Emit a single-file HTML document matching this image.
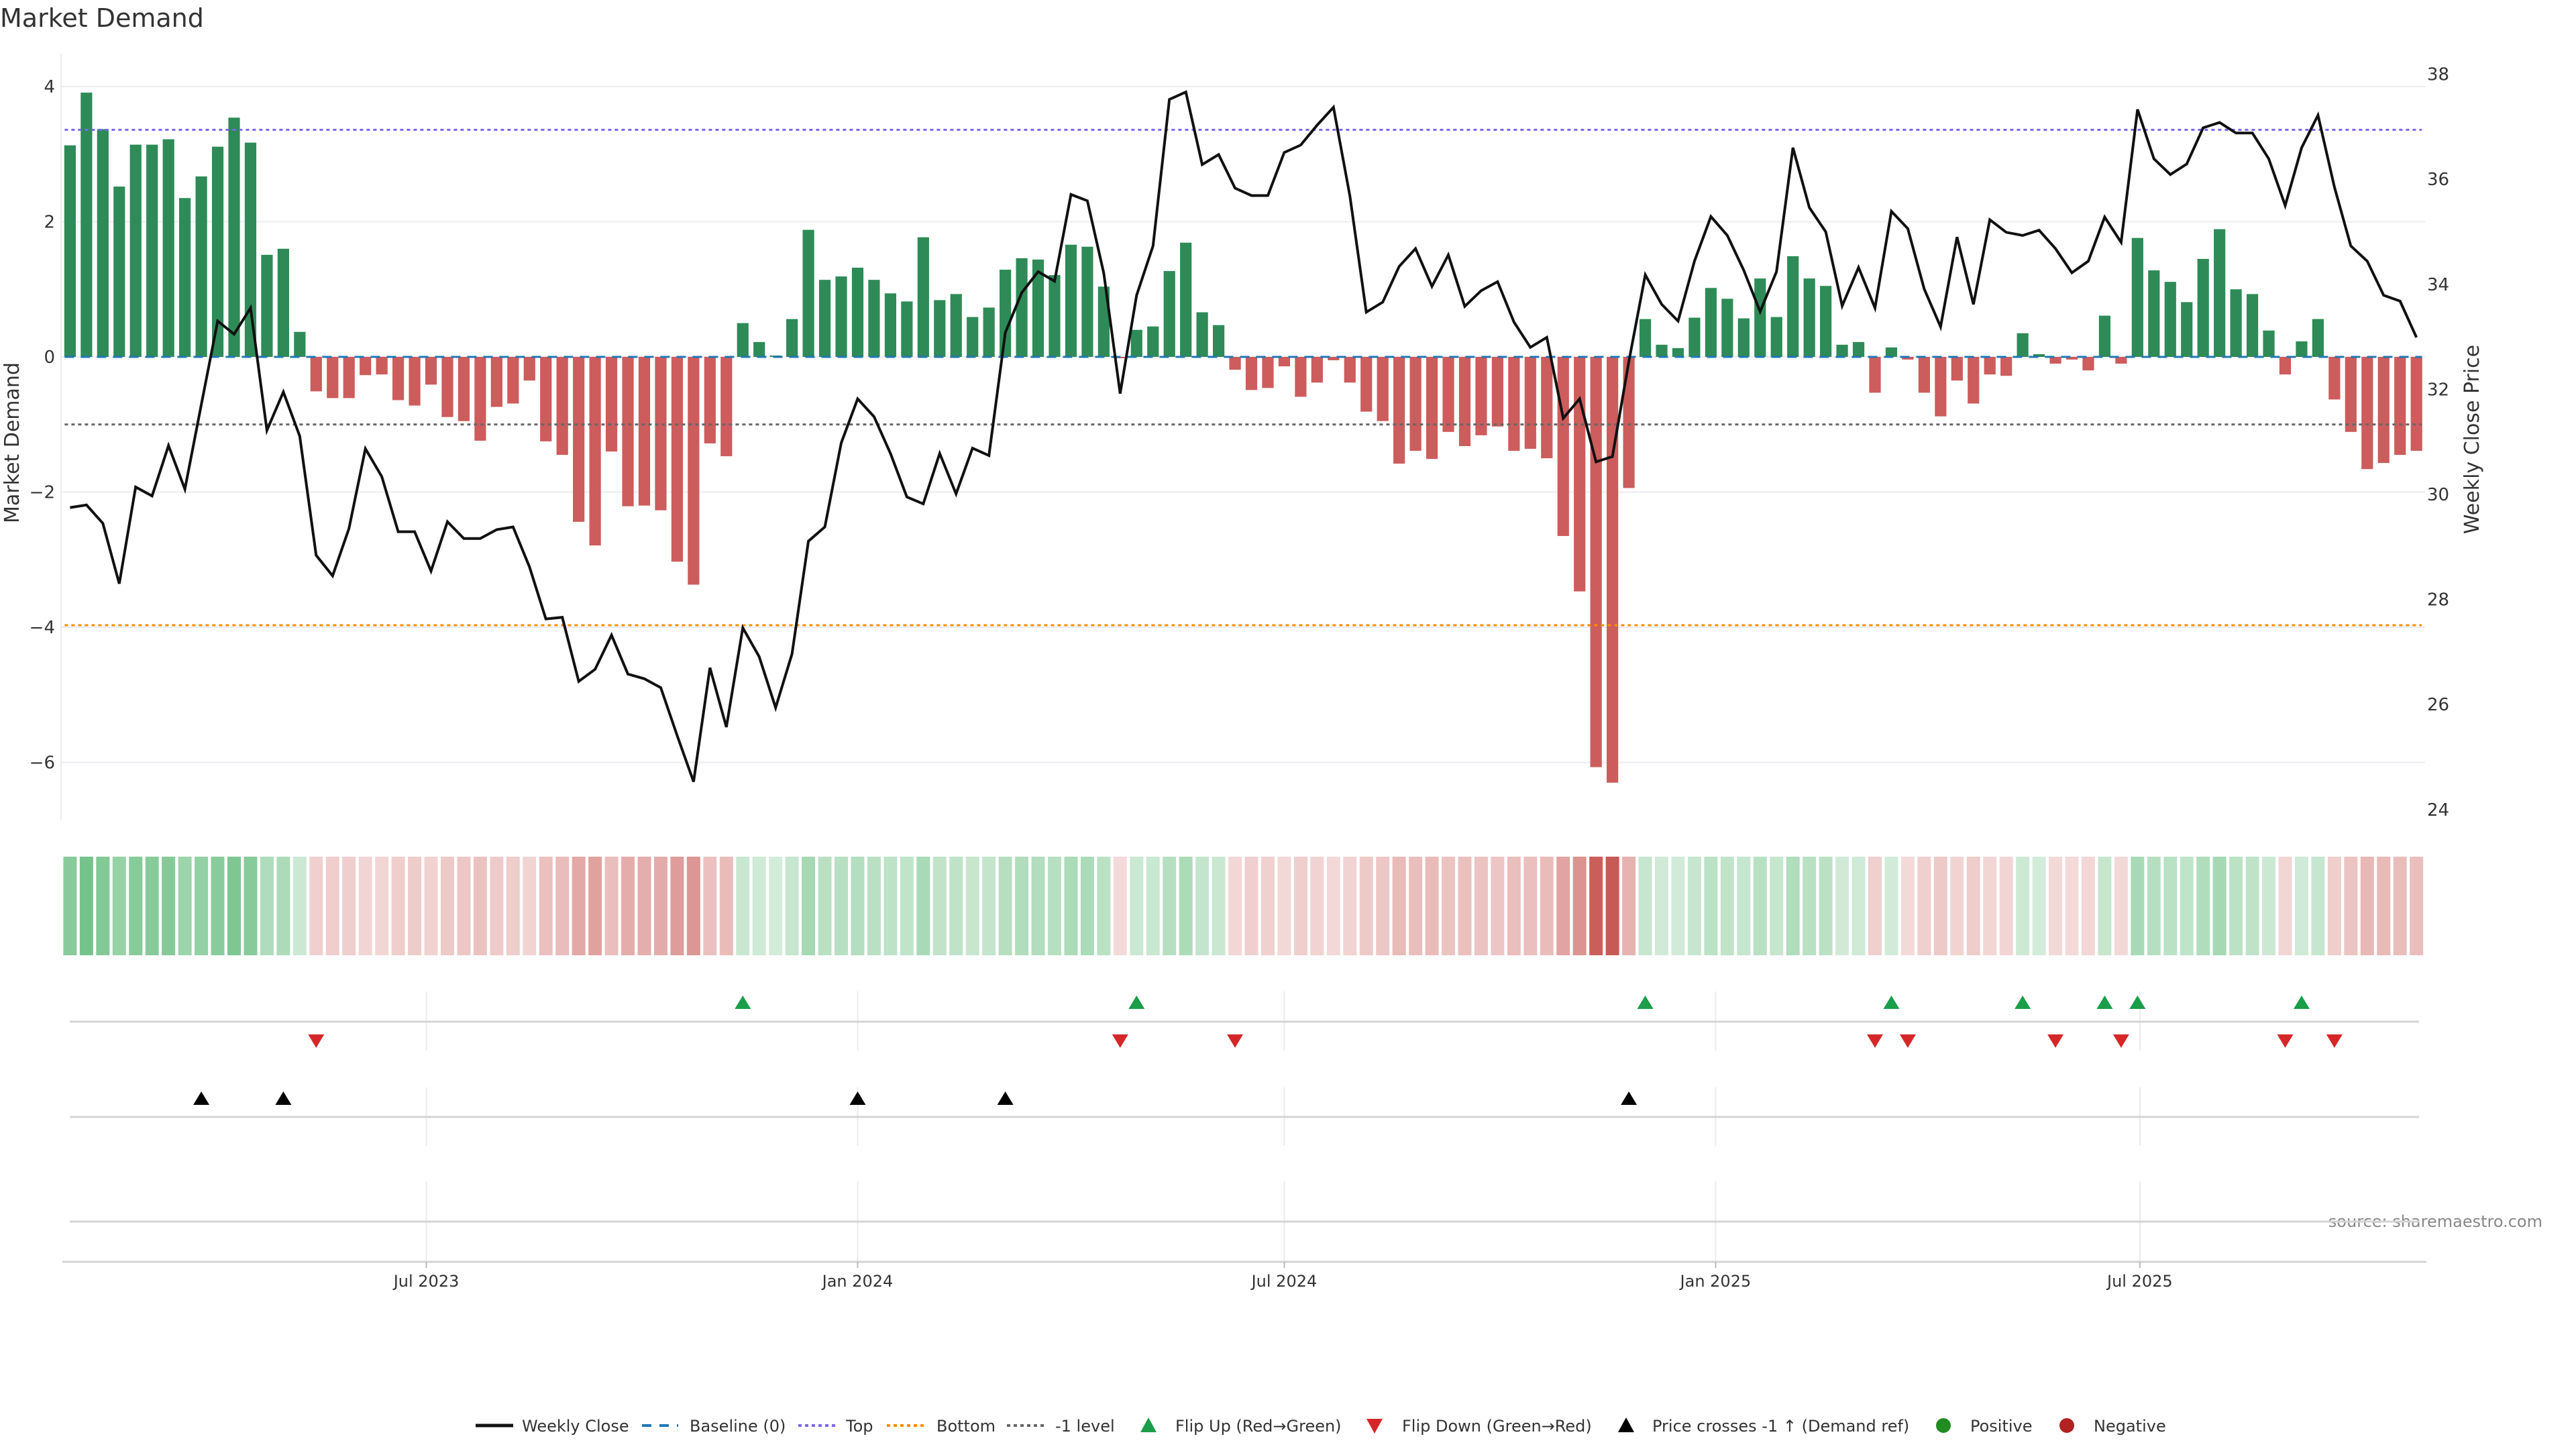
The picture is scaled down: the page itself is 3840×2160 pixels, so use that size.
<!DOCTYPE html>
<html><head><meta charset="utf-8">
<style>
html,body{margin:0;padding:0;background:#fff;}
svg{display:block;font-family:"DejaVu Sans","Liberation Sans",sans-serif;}
</style></head>
<body>
<svg id="chart" width="3840" height="2160" viewBox="0 0 3840 2160" xmlns="http://www.w3.org/2000/svg">
<rect x="0" y="0" width="3840" height="2160" fill="#fff"/>
<text x="0" y="40" font-size="38" fill="#333">Market Demand</text>
<text transform="translate(28,660) rotate(-90)" text-anchor="middle" font-size="30" fill="#333">Market Demand</text>
<text transform="translate(3695,655) rotate(-90)" text-anchor="middle" font-size="30" fill="#333">Weekly Close Price</text>
<text x="3790" y="1829" text-anchor="end" font-size="24" fill="#888">source: sharemaestro.com</text>
<g id="grid"></g><g id="heat"></g><g id="bars"></g><g id="refs"></g><g id="line"></g><g id="marks"></g><g id="axes"></g><g id="legend"></g>
</svg>
<script>
const demand = [3.13,3.91,3.37,2.52,3.14,3.14,3.22,2.35,2.67,3.11,3.54,3.17,1.51,1.60,0.37,
-0.51,-0.61,-0.61,-0.27,-0.26,-0.64,-0.72,-0.41,-0.89,-0.95,-1.24,-0.74,-0.69,-0.35,-1.25,-1.45,-2.44,-2.79,-1.40,-2.21,-2.20,-2.27,-3.03,-3.37,-1.28,-1.47,
0.50,0.22,0.02,0.56,1.88,1.14,1.19,1.32,1.14,0.94,0.82,1.77,0.84,0.93,0.59,0.73,1.29,1.46,1.44,1.21,1.66,1.63,1.04,-0.02,0.40,0.45,1.27,1.69,0.66,0.47,
-0.19,-0.49,-0.46,-0.14,-0.59,-0.38,-0.05,-0.38,-0.81,-0.95,-1.58,-1.39,-1.51,-1.11,-1.32,-1.16,-1.03,-1.39,-1.36,-1.50,-2.65,-3.47,-6.07,-6.30,-1.94,
0.56,0.18,0.13,0.58,1.02,0.86,0.57,1.16,0.59,1.49,1.16,1.05,0.18,0.22,-0.53,0.14,-0.04,-0.53,-0.88,-0.35,-0.69,-0.26,-0.28,0.35,0.04,-0.10,-0.04,-0.20,0.61,-0.10,
1.76,1.28,1.11,0.81,1.45,1.89,1.00,0.93,0.39,-0.26,0.23,0.56,-0.63,-1.11,-1.66,-1.57,-1.45,-1.39];
const price = [29.75,29.80,29.45,28.30,30.14,29.97,30.93,30.10,31.71,33.30,33.05,33.55,31.22,31.95,31.11,28.84,28.45,29.35,30.87,30.34,29.29,29.29,28.54,29.48,29.16,29.16,29.33,29.38,28.62,27.63,27.66,26.44,26.67,27.32,26.58,26.49,26.32,
25.41,24.53,26.70,25.57,27.46,26.91,25.94,26.96,29.11,29.38,30.98,31.82,31.48,30.78,29.95,29.82,30.78,30.01,30.88,30.74,33.08,33.84,34.24,34.06,35.71,35.59,34.21,31.92,33.79,34.73,37.52,37.66,36.28,36.47,35.83,35.69,
35.69,36.51,36.65,37.03,37.37,35.68,33.47,33.66,34.34,34.68,33.96,34.56,33.58,33.88,34.05,33.28,32.80,32.99,31.45,31.82,30.62,30.72,32.53,34.18,33.62,33.30,34.44,35.29,34.93,34.27,33.48,34.24,36.60,35.46,35.00,33.59,34.32,
33.55,35.39,35.06,33.91,33.19,34.90,33.62,35.23,34.99,34.93,35.03,34.68,34.22,34.44,35.28,34.80,37.33,36.39,36.09,36.29,36.98,37.08,36.88,36.88,36.39,35.50,36.60,37.22,35.85,34.73,34.44,33.79,33.68,32.99];
const startDate = "2023-01-30";
const leftTicks = [4,2,0,-2,-4,-6];
const rightTicks = [24,26,28,30,32,34,36,38];
const xTickDates = ["2023-07-01","2024-01-01","2024-07-01","2025-01-01","2025-07-01"];
const xTickLabels = ["Jul 2023","Jan 2024","Jul 2024","Jan 2025","Jul 2025"];
const topLevel = 3.36, bottomLevel = -3.97, minusOneLevel = -1;

const NS="http://www.w3.org/2000/svg";
function mk(tag, attrs, parent){const e=document.createElementNS(NS,tag);for(const k in attrs)e.setAttribute(k,attrs[k]);parent.appendChild(e);return e;}
const DAY=86400000, t0=Date.parse(startDate);
const pxPerDay = 24.46/7, x0 = 104.4;
function xDate(s){return x0+(Date.parse(s)-t0)/DAY*pxPerDay;}
function xIdx(i){return x0+i*7*pxPerDay;}
function yL(v){return 532-v*100.75;}
function yR(p){return 737-(p-30)*78.3;}
const PL=91, PR=3615;
const g=id=>document.getElementById(id);

leftTicks.forEach(v=>{
  const l=mk('line',{x1:PL,x2:PR,y1:yL(v),y2:yL(v),stroke:'#ebebf0','stroke-width':2},g('grid'));
  
  
  const t=mk('text',{x:82,y:yL(v)+9,'text-anchor':'end','font-size':26,fill:'#333'},g('axes'));
  t.textContent=(v<0?'\u2212'+(-v):''+v);
  
  
});
rightTicks.forEach(p=>{
  const t=mk('text',{x:3618,y:yR(p)+9,'font-size':26,fill:'#333'},g('axes'));
  t.textContent=p;
  
  
});
const sp=mk('line',{x1:PL,x2:PL,y1:80,y2:1222,stroke:'#ebebf0','stroke-width':2},g('grid'));



const maxAbs=Math.max(...demand.map(Math.abs));
demand.forEach((v,i)=>{
  const x=xIdx(i), y0=yL(0), y1=yL(v);
  const r=mk('rect',{x:x-8.6,y:Math.min(y0,y1),width:17.2,height:Math.max(0.5,Math.abs(y1-y0)),fill:v>=0?'#2e8b57':'#cd5c5c'},g('bars'));
  
  
  const a=0.22+0.78*Math.abs(v)/maxAbs;
  const c=mk('rect',{x:x-10,y:1277,width:20,height:147,fill:v>=0?'rgb(60,170,90)':'rgb(200,90,85)','fill-opacity':a.toFixed(3)},g('heat'));
  
  
});

const xa=xIdx(0)-8, xb=xIdx(demand.length-1)+8;
[[0,'#1f77b4','14 10','baseline-line'],[topLevel,'#7b68ee','5 5','top-line'],[bottomLevel,'#ff8c00','5 5','bottom-line'],[minusOneLevel,'#666','5 5','minus-one-line']].forEach(d=>{
  const l=mk('line',{x1:xa,x2:xb,y1:yL(d[0]),y2:yL(d[0]),stroke:d[1],'stroke-width':3,'stroke-dasharray':d[2]},g('refs'));
  
  
});

const pl=mk('polyline',{points:price.map((p,i)=>xIdx(i).toFixed(1)+','+yR(p).toFixed(1)).join(' '),fill:'none',stroke:'#111','stroke-width':4,'stroke-linejoin':'miter'},g('line'));



[[1478,1566,1523],[1621,1708,1665],[1761,1880,1821]].forEach(p=>{
  xTickDates.forEach(d=>{
    const l=mk('line',{x1:xDate(d),x2:xDate(d),y1:p[0],y2:p[1],stroke:'#ebebf0','stroke-width':2},g('grid'));
    
    
  });
  const h=mk('line',{x1:104,x2:3606,y1:p[2],y2:p[2],stroke:'#d4d4d4','stroke-width':3},g('grid'));
  
  
});
function tri(x,y,up,col,name){
  const pts=up?`${x-12},${y+10} ${x+12},${y+10} ${x},${y-10}`:`${x-12},${y-10} ${x+12},${y-10} ${x},${y+10}`;
  const t=mk('polygon',{points:pts,fill:col},g('marks'));
  
  
}
const refPrice = 30+(737-yL(minusOneLevel))/78.3;
for(let i=1;i<demand.length;i++){
  if(demand[i]>0&&demand[i-1]<=0) tri(xIdx(i),1494,true,'#1a9e4a','flip-up-marker');
  if(demand[i]<=0&&demand[i-1]>0) tri(xIdx(i),1552,false,'#d62728','flip-down-marker');
  if(price[i]>refPrice&&price[i-1]<=refPrice) tri(xIdx(i),1637,true,'#000','price-cross-marker');
}

const ax=mk('line',{x1:93,x2:3617,y1:1881,y2:1881,stroke:'#d4d4d4','stroke-width':3},g('axes'));


xTickDates.forEach((d,k)=>{
  const x=xDate(d);
  const tk=mk('line',{x1:x,x2:x,y1:1881,y2:1890,stroke:'#bbb','stroke-width':2},g('axes'));
  
  
  const t=mk('text',{x:x,y:1918,'text-anchor':'middle','font-size':24,fill:'#333'},g('axes'));
  t.textContent=xTickLabels[k];
  
  
});

const L=g('legend'), LY=2125;
function ltext(x,s){const t=mk('text',{x:x,y:LY+9,'font-size':24,fill:'#333'},L);t.textContent=s;}
function lline(x1,x2,col,w,dash,name){const l=mk('line',{x1:x1,x2:x2,y1:LY,y2:LY,stroke:col,'stroke-width':w,'stroke-dasharray':dash},L);}
lline(709,765,'#111',5,'none','legend-weekly-close');ltext(778,'Weekly Close');
lline(957,1011,'#1f77b4',4,'14 12','legend-baseline');ltext(1028,'Baseline (0)');
lline(1190,1246,'#7b68ee',4,'5 5','legend-top');ltext(1261,'Top');
lline(1322,1379,'#ff8c00',4,'5 5','legend-bottom');ltext(1396,'Bottom');
lline(1501,1558,'#666',4,'5 5','legend-minus-one');ltext(1573,'-1 level');
(function(){
  const a=mk('polygon',{points:`1700,${LY+10} 1724,${LY+10} 1712,${LY-12}`,fill:'#1a9e4a'},L);
  ltext(1752,'Flip Up (Red\u2192Green)');
  const b=mk('polygon',{points:`2037,${LY-10} 2061,${LY-10} 2049,${LY+12}`,fill:'#d62728'},L);
  ltext(2090,'Flip Down (Green\u2192Red)');
  const c=mk('polygon',{points:`2412,${LY+10} 2436,${LY+10} 2424,${LY-12}`,fill:'#000'},L);
  ltext(2463,'Price crosses -1 \u2191 (Demand ref)');
  const d=mk('circle',{cx:2897,cy:LY,r:11,fill:'#228b22'},L);
  ltext(2937,'Positive');
  const e=mk('circle',{cx:3081,cy:LY,r:11,fill:'#b22222'},L);
  ltext(3121,'Negative');
})();
</script>
</body></html>
